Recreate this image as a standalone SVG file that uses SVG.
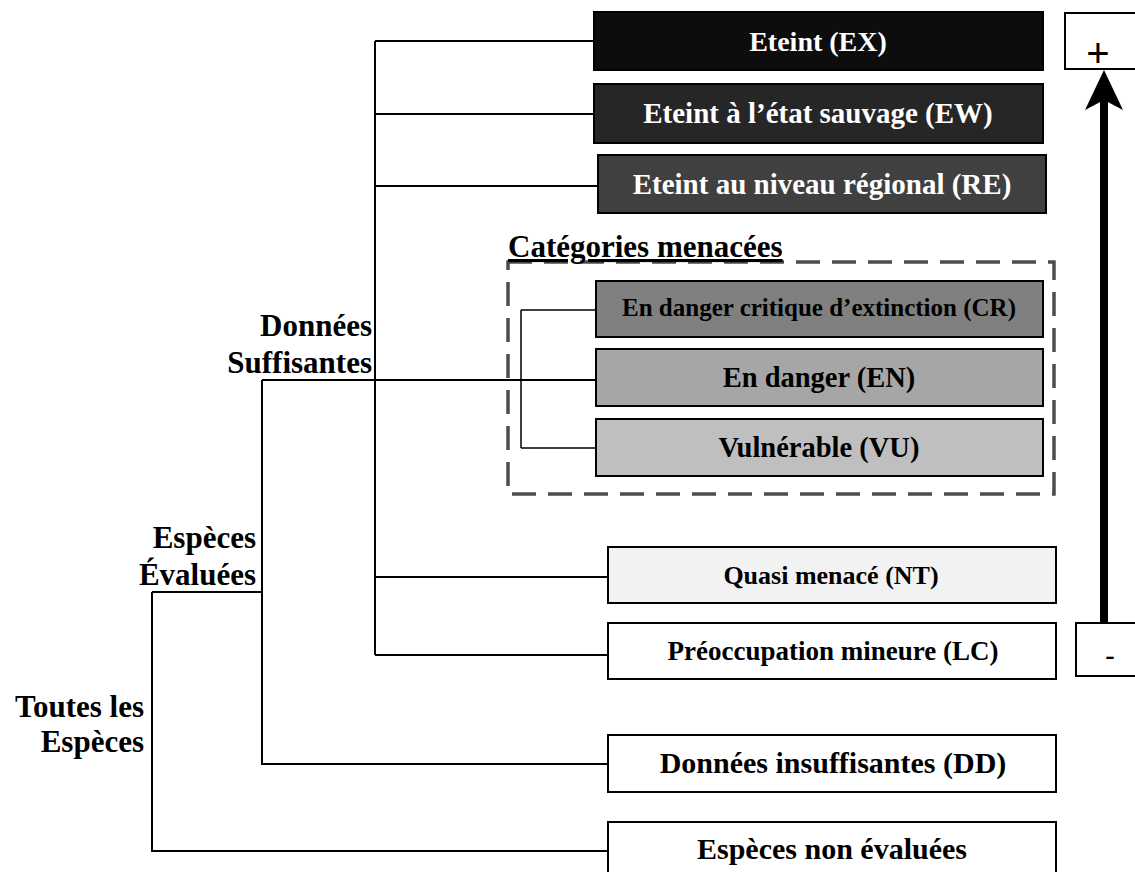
<svg xmlns="http://www.w3.org/2000/svg" width="1135" height="872" viewBox="0 0 1135 872">
<style>
.box{stroke:#000;stroke-width:2}
.t{font-family:"Liberation Serif","Times New Roman",serif;font-weight:bold;text-anchor:middle}
.w{fill:#fff}
.k{fill:#000}
.lab{font-family:"Liberation Serif","Times New Roman",serif;font-weight:bold;font-size:31px;text-anchor:end;fill:#000}
.c{fill:none;stroke:#000;stroke-width:2}
.ci{fill:none;stroke:#000;stroke-width:1.5}
.sym{font-family:"Liberation Sans",Arial,sans-serif;text-anchor:middle;fill:#000}
</style>
<rect width="1135" height="872" fill="#fff"/>
<g id="connectors">
<path class="c" d="M375 41V655M375 41H594M375 114H594M375 186H598M375 577H608M375 655H608"/>
<path class="c" d="M262 380H596M262 380V764H608M152 592H262M152 592V851H608"/>
<path class="ci" d="M521 310V448M521 310H596M521 448H596"/>
</g>
<g id="threatened">
<rect x="508" y="262" width="546" height="232" fill="none" stroke="#4d4d4d" stroke-width="3.5" stroke-dasharray="24 12"/>
<text x="508" y="257" font-family="Liberation Serif, Times New Roman, serif" font-weight="bold" font-size="31" text-decoration="underline" fill="#000">Catégories menacées</text>
</g>
<g id="EX"><rect class="box" x="594" y="12" width="449" height="58" fill="#0d0d0d"/><text class="t w" x="818" y="51" font-size="28">Eteint (EX)</text></g>
<g id="EW"><rect class="box" x="594" y="84" width="449" height="59" fill="#262626"/><text class="t w" x="818" y="123" font-size="29">Eteint à l’état sauvage (EW)</text></g>
<g id="RE"><rect class="box" x="598" y="155" width="448" height="58" fill="#404040"/><text class="t w" x="822" y="194" font-size="29">Eteint au niveau régional (RE)</text></g>
<g id="CR"><rect class="box" x="596" y="281" width="447" height="56" fill="#808080"/><text class="t k" x="819" y="316" font-size="25">En danger critique d’extinction (CR)</text></g>
<g id="EN"><rect class="box" x="596" y="349" width="447" height="57" fill="#a6a6a6"/><text class="t k" x="819" y="387" font-size="28.5">En danger (EN)</text></g>
<g id="VU"><rect class="box" x="596" y="419" width="447" height="57" fill="#bfbfbf"/><text class="t k" x="819" y="457" font-size="28.5">Vulnérable (VU)</text></g>
<g id="NT"><rect class="box" x="608" y="547" width="448" height="56" fill="#f2f2f2"/><text class="t k" x="831" y="584" font-size="26">Quasi menacé (NT)</text></g>
<g id="LC"><rect class="box" x="608" y="623" width="448" height="56" fill="#fff"/><text class="t k" x="833" y="660" font-size="27">Préoccupation mineure (LC)</text></g>
<g id="DD"><rect class="box" x="608" y="735" width="448" height="57" fill="#fff"/><text class="t k" x="833" y="773" font-size="30">Données insuffisantes (DD)</text></g>
<g id="NE"><rect class="box" x="608" y="822" width="448" height="57" fill="#fff"/><text class="t k" x="832" y="859" font-size="30">Espèces non évaluées</text></g>
<g id="label-suff"><text class="lab" x="372" y="336">Données</text><text class="lab" x="372" y="373">Suffisantes</text></g>
<g id="label-eval"><text class="lab" x="256" y="548">Espèces</text><text class="lab" x="256" y="585">Évaluées</text></g>
<g id="label-all"><text class="lab" x="144" y="717">Toutes les</text><text class="lab" x="144" y="752">Espèces</text></g>
<g id="scale">
<rect x="1065" y="13" width="90" height="56" fill="#fff" stroke="#000" stroke-width="2"/>
<text class="sym" x="1098" y="67" font-size="40">+</text>
<rect x="1076" y="623" width="80" height="53" fill="#fff" stroke="#000" stroke-width="2"/>
<text class="sym" x="1110" y="666" font-size="30">-</text>
<rect x="1100" y="98" width="8" height="525" fill="#000"/>
<polygon points="1104,70 1123,110 1104,100 1085,110" fill="#000"/>
</g>
</svg>
